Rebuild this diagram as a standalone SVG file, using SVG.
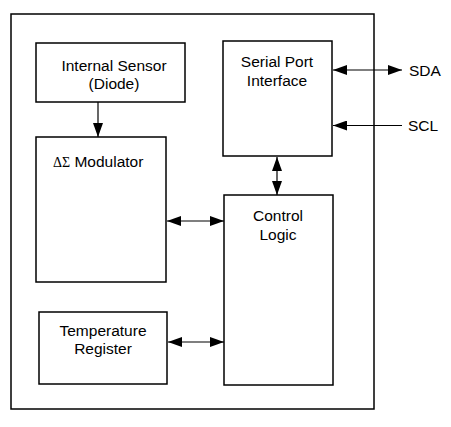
<svg xmlns="http://www.w3.org/2000/svg" width="451" height="427" viewBox="0 0 451 427">
<defs>
<style>
.box{fill:#fff;stroke:#000;stroke-width:1.5}
.t{font-family:"Liberation Sans",Arial,sans-serif;font-size:15.5px;fill:#000;text-anchor:middle}
.ln{stroke:#000;stroke-width:1.2;fill:none}
</style>
<marker id="ah" viewBox="0 0 14 10" refX="14" refY="5" markerWidth="14" markerHeight="10" markerUnits="userSpaceOnUse" orient="auto-start-reverse">
<path d="M0,0 L14,5 L0,10 Z" fill="#000"/>
</marker>
</defs>
<rect width="451" height="427" fill="#fff"/>
<g id="outer"><rect class="box" x="11" y="14" width="363" height="395"/></g>
<g id="sensor">
<rect class="box" x="36" y="43" width="149" height="59"/>
<text class="t" x="114" y="71">Internal Sensor</text>
<text class="t" x="114" y="89">(Diode)</text>
</g>
<g id="modulator">
<rect class="box" x="36" y="137" width="130" height="145"/>
<text x="53" y="167" style="font-family:'Liberation Sans',Arial,sans-serif;font-size:15.5px"><tspan style="font-family:'Liberation Serif','DejaVu Serif',serif;font-size:14px">ΔΣ</tspan> Modulator</text>
</g>
<g id="serial">
<rect class="box" x="223" y="41" width="109" height="115"/>
<text class="t" x="277" y="67">Serial Port</text>
<text class="t" x="277" y="86">Interface</text>
</g>
<g id="control">
<rect class="box" x="224" y="195" width="109" height="190"/>
<text class="t" x="278" y="221">Control</text>
<text class="t" x="278" y="240">Logic</text>
</g>
<g id="tempreg">
<rect class="box" x="39" y="312" width="128" height="72"/>
<text class="t" x="103" y="336">Temperature</text>
<text class="t" x="103" y="354">Register</text>
</g>
<g id="sda"><text x="409" y="76" style="font-family:'Liberation Sans',Arial,sans-serif;font-size:15.5px">SDA</text></g>
<g id="scl"><text x="408" y="131" style="font-family:'Liberation Sans',Arial,sans-serif;font-size:15.5px">SCL</text></g>
<g id="connectors">
<line class="ln" x1="98" y1="102" x2="98" y2="137" marker-end="url(#ah)"/>
<line class="ln" x1="333" y1="70" x2="402" y2="70" marker-start="url(#ah)" marker-end="url(#ah)"/>
<line class="ln" x1="402" y1="125.5" x2="333" y2="125.5" marker-end="url(#ah)"/>
<line class="ln" x1="277" y1="157" x2="277" y2="195" marker-start="url(#ah)" marker-end="url(#ah)"/>
<line class="ln" x1="167" y1="221" x2="224" y2="221" marker-start="url(#ah)" marker-end="url(#ah)"/>
<line class="ln" x1="168" y1="342" x2="224" y2="342" marker-start="url(#ah)" marker-end="url(#ah)"/>
</g>
</svg>
